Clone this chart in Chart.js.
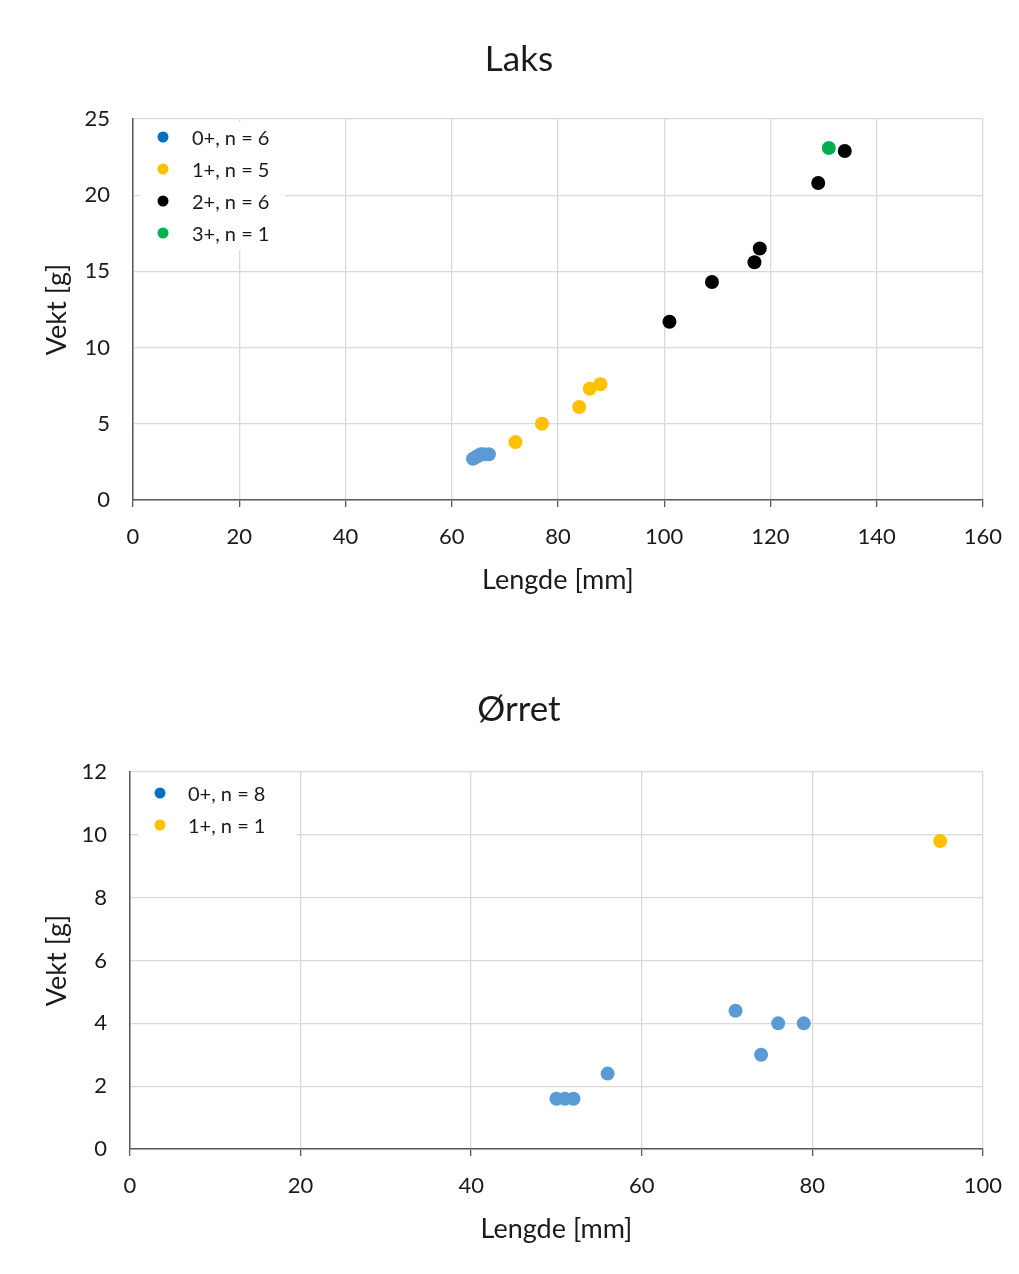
<!DOCTYPE html>
<html>
<head>
<meta charset="utf-8">
<script src="https://cdn.jsdelivr.net/npm/chart.js@4"></script>
<style>
  html, body { margin: 0; padding: 0; background: #fff; }
  .box { position: absolute; left: 0; width: 1019px; height: 637px; }
  #b1 { top: 0; }
  #b2 { top: 637px; }
</style>
</head>
<body>
<div class="box" id="b1"><canvas id="c1"></canvas></div>
<div class="box" id="b2"><canvas id="c2"></canvas></div>
<script>
// ---- Laks data ----
const laksTitle = "Laks";
const laksLabels = ["0+, n = 6", "1+, n = 5", "2+, n = 6", "3+, n = 1"];
const laks0X = [64, 64.5, 65, 65.5, 66, 67];
const laks0Y = [2.7, 2.8, 2.9, 3.0, 3.0, 3.0];
const laks1X = [72, 77, 84, 86, 88];
const laks1Y = [3.8, 5.0, 6.1, 7.3, 7.6];
const laks2X = [101, 109, 117, 118, 129, 134];
const laks2Y = [11.7, 14.3, 15.6, 16.5, 20.8, 22.9];
const laks3X = [131];
const laks3Y = [23.1];
const laksXTicks = [0, 20, 40, 60, 80, 100, 120, 140, 160];
const laksYTicks = [0, 5, 10, 15, 20, 25];

// ---- Ørret data ----
const orretTitle = "Ørret";
const orretLabels = ["0+, n = 8", "1+, n = 1"];
const orret0X = [50, 51, 52, 56, 71, 74, 76, 79];
const orret0Y = [1.6, 1.6, 1.6, 2.4, 4.4, 3.0, 4.0, 4.0];
const orret1X = [95];
const orret1Y = [9.8];
const orretXTicks = [0, 20, 40, 60, 80, 100];
const orretYTicks = [0, 2, 4, 6, 8, 10, 12];

const xTitle = "Lengde [mm]";
const yTitle = "Vekt [g]";

// ---- styles ----
const pointColors = ["#5B9BD5", "#FFC000", "#000000", "#00B050"];
const legendColors = ["#0070C0", "#FFC000", "#000000", "#00B050"];
const FONT = "Lato, 'Open Sans', sans-serif";
const TEXT = "#1a1a1a";

function pts(xs, ys) { return xs.map((x, i) => ({ x: x, y: ys[i] })); }

function makeDatasets(labels, xsList, ysList) {
  return labels.map((lab, i) => ({
    label: lab,
    data: pts(xsList[i], ysList[i]),
    backgroundColor: pointColors[i],
    borderColor: pointColors[i],
    borderWidth: 0,
    pointRadius: 7,
    pointHoverRadius: 7,
    legendColor: legendColors[i]
  }));
}

const innerLegend = {
  id: 'innerLegend',
  beforeDatasetsDraw(chart, args, opts) {
    const ctx = chart.ctx;
    ctx.save();
    ctx.fillStyle = '#ffffff';
    ctx.fillRect(opts.box[0], opts.box[1], opts.box[2], opts.box[3]);
    ctx.font = "20px " + FONT;
    ctx.textBaseline = 'middle';
    ctx.textAlign = 'left';
    chart.data.datasets.forEach((ds, i) => {
      const y = opts.y0 + i * opts.dy;
      ctx.fillStyle = ds.legendColor;
      ctx.beginPath();
      ctx.arc(opts.mx, y, 5.5, 0, Math.PI * 2);
      ctx.fill();
      ctx.fillStyle = TEXT;
      ctx.fillText(ds.label, opts.tx, y + 2);
    });
    ctx.restore();
  }
};

const topTitle = {
  id: 'topTitle',
  afterDraw(chart, args, opts) {
    const ctx = chart.ctx;
    ctx.save();
    ctx.font = "35px " + FONT;
    ctx.fillStyle = TEXT;
    ctx.textAlign = 'center';
    ctx.textBaseline = 'middle';
    ctx.fillText(opts.text, opts.x, opts.y);
    ctx.restore();
  }
};

function makeChart(canvasId, cfg) {
  return new Chart(document.getElementById(canvasId), {
    type: 'scatter',
    data: { datasets: cfg.datasets },
    options: {
      responsive: true,
      maintainAspectRatio: false,
      animation: false,
      events: [],
      layout: { padding: { left: 37, right: cfg.padRight, top: cfg.padTop, bottom: cfg.padBottom } },
      plugins: {
        legend: { display: false },
        tooltip: { enabled: false },
        title: { display: false },
        innerLegend: cfg.legend,
        topTitle: { text: cfg.title, x: cfg.titleX, y: cfg.titleY }
      },
      scales: {
        x: {
          type: 'linear',
          min: cfg.xTicks[0],
          max: cfg.xTicks[cfg.xTicks.length - 1],
          afterBuildTicks: (s) => { s.ticks = cfg.xTicks.map(v => ({ value: v })); },
          afterFit: (s) => { s.height = 100; },
          grid: { color: '#D9D9D9', lineWidth: 1.3, tickColor: '#595959', tickLength: 7, drawTicks: true },
          border: { color: '#595959', width: 1.5 },
          ticks: { color: TEXT, font: { family: FONT, size: 22 }, padding: 17, maxRotation: 0 },
          title: { display: true, text: xTitle, color: TEXT, font: { family: FONT, size: 27 } }
        },
        y: {
          type: 'linear',
          min: cfg.yTicks[0],
          max: cfg.yTicks[cfg.yTicks.length - 1],
          afterBuildTicks: (s) => { s.ticks = cfg.yTicks.map(v => ({ value: v })); },
          afterFit: (s) => { s.width = cfg.yWidth; },
          grid: { color: '#D9D9D9', lineWidth: 1.3, drawTicks: false },
          border: { color: '#595959', width: 1.5 },
          ticks: { color: TEXT, font: { family: FONT, size: 22 }, padding: 23 },
          title: { display: true, text: yTitle, color: TEXT, font: { family: FONT, size: 27 } }
        }
      }
    },
    plugins: [innerLegend, topTitle]
  });
}

makeChart('c1', {
  datasets: makeDatasets(laksLabels, [laks0X, laks1X, laks2X, laks3X], [laks0Y, laks1Y, laks2Y, laks3Y]),
  xTicks: laksXTicks, yTicks: laksYTicks,
  padRight: 36, padTop: 119, padBottom: 37, yWidth: 96,
  title: laksTitle, titleX: 519, titleY: 60,
  legend: { box: [140, 122, 145, 128], mx: 163, tx: 192, y0: 137, dy: 32 }
});

makeChart('c2', {
  datasets: makeDatasets(orretLabels, [orret0X, orret1X], [orret0Y, orret1Y]),
  xTicks: orretXTicks, yTicks: orretYTicks,
  padRight: 31, padTop: 135, padBottom: 25, yWidth: 93,
  title: orretTitle, titleX: 519, titleY: 73,
  legend: { box: [138, 139, 159, 64], mx: 160, tx: 188, y0: 156, dy: 32 }
});
</script>
</body>
</html>
